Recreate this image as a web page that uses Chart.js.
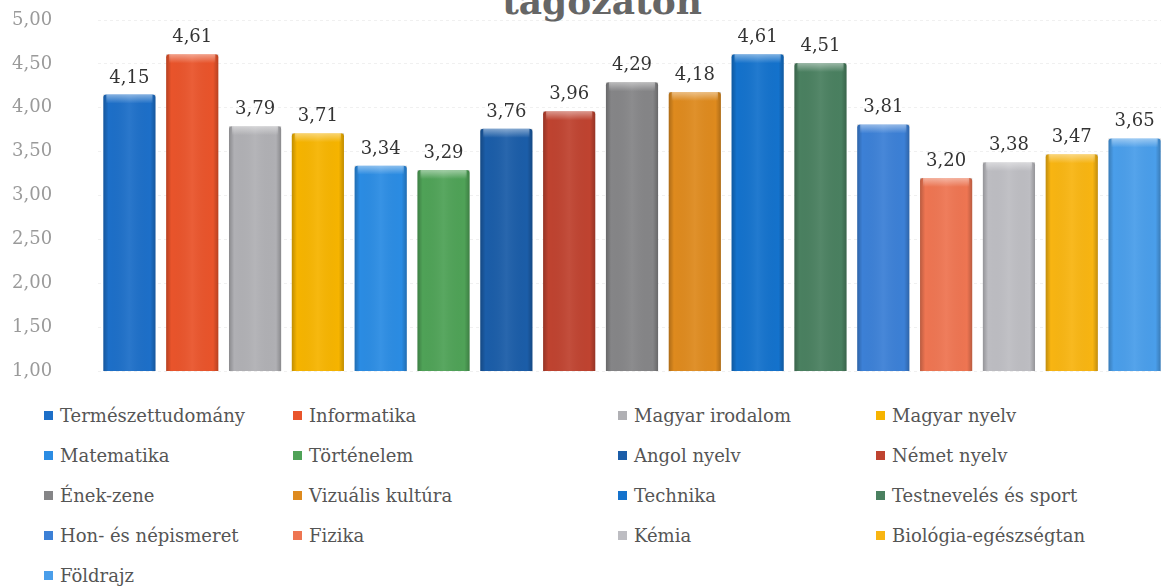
<!DOCTYPE html>
<html>
<head>
<meta charset="utf-8">
<script src="https://cdn.jsdelivr.net/npm/chart.js@4/dist/chart.umd.min.js"></script>
<style>
  html, body { margin: 0; padding: 0; background: #fff; }
  body { width: 1161px; height: 586px; overflow: hidden; position: relative; }
  #title {
    position: absolute; left: 0; width: 1204px; top: -17px;
    text-align: center; font: bold 36px "DejaVu Serif", serif; line-height: 36px;
    color: #666;
  }
  #wrap { position: absolute; left: 0; top: 0; width: 1166px; height: 385px; }
  #legend {
    position: absolute; left: 44px; top: 395px;
    display: grid; grid-template-columns: 249px 325px 258px auto;
    grid-auto-rows: 40px;
    font: 18px "DejaVu Serif", serif; color: #555;
  }
  #legend .item { display: flex; align-items: center; white-space: nowrap; }
  #legend .box { width: 9px; height: 9px; margin-right: 7px; flex: none; }
</style>
</head>
<body>
<div id="title">tagozaton</div>
<div id="wrap"><canvas id="barChart"></canvas></div>
<div id="legend"></div>
<script>
// subjects (one series each) and their averages
const subjects = [
  "Természettudomány", "Informatika", "Magyar irodalom", "Magyar nyelv",
  "Matematika", "Történelem", "Angol nyelv", "Német nyelv",
  "Ének-zene", "Vizuális kultúra", "Technika", "Testnevelés és sport",
  "Hon- és népismeret", "Fizika", "Kémia", "Biológia-egészségtan",
  "Földrajz"
];
const averages = [
  4.15, 4.61, 3.79, 3.71,
  3.34, 3.29, 3.76, 3.96,
  4.29, 4.18, 4.61, 4.51,
  3.81, 3.20, 3.38, 3.47,
  3.65
];
const palette = [
  "#1d6fc8", "#e9542b", "#b0b0b4", "#f6b400",
  "#2b8ce3", "#4fa257", "#1b5da8", "#bf4330",
  "#858587", "#de8a1e", "#1472cc", "#4a8060",
  "#3c80d6", "#ee7552", "#bdbdc2", "#f8b512",
  "#4a9eea"
];
const yMin = 1, yMax = 5, yStep = 0.5;

const fmt = (v) => v.toFixed(2).replace(".", ",");

// bevel shading + value labels on top of the bars
const barDecor = {
  id: "barDecor",
  afterDatasetsDraw(chart) {
    const ctx = chart.ctx;
    const bottom = chart.chartArea.bottom;
    chart.data.datasets.forEach((ds, i) => {
      const meta = chart.getDatasetMeta(i);
      meta.data.forEach((bar, j) => {
        const left = bar.x - bar.width / 2;
        const top = bar.y;
        const h = Math.min(bar.base, bottom) - top;
        const g = ctx.createLinearGradient(left, 0, left + bar.width, 0);
        g.addColorStop(0, "rgba(0,0,0,0.22)");
        g.addColorStop(0.1, "rgba(0,0,0,0)");
        g.addColorStop(0.5, "rgba(255,255,255,0.06)");
        g.addColorStop(0.9, "rgba(0,0,0,0)");
        g.addColorStop(1, "rgba(0,0,0,0.22)");
        ctx.save();
        ctx.fillStyle = g;
        ctx.fillRect(left, top, bar.width, h);
        const t = ctx.createLinearGradient(0, top, 0, top + 9);
        t.addColorStop(0, "rgba(255,255,255,0.45)");
        t.addColorStop(1, "rgba(255,255,255,0)");
        ctx.fillStyle = t;
        ctx.fillRect(left + 3, top, bar.width - 6, 9);
        ctx.fillStyle = "#333";
        ctx.font = '18px "DejaVu Serif", serif';
        ctx.textAlign = "center";
        ctx.textBaseline = "alphabetic";
        ctx.fillText(fmt(ds.data[j]), bar.x, top - 12);
        ctx.restore();
      });
    });
  }
};

const chart = new Chart(document.getElementById("barChart"), {
  type: "bar",
  data: {
    labels: [""],
    datasets: subjects.map((name, i) => ({
      label: name,
      data: [averages[i]],
      backgroundColor: palette[i],
      borderRadius: { topLeft: 3, topRight: 3 },
      borderSkipped: "bottom",
    })),
  },
  options: {
    responsive: true,
    maintainAspectRatio: false,
    animation: false,
    layout: { padding: { top: 20, bottom: 14, left: 12, right: 0 } },
    datasets: { bar: { categoryPercentage: 1, barPercentage: 0.83 } },
    plugins: {
      legend: { display: false },
      tooltip: { enabled: false },
    },
    scales: {
      x: { display: false },
      y: {
        min: yMin,
        max: yMax,
        ticks: {
          stepSize: yStep,
          padding: 2,
          crossAlign: "far",
          color: "#9a9a9a",
          font: { family: '"DejaVu Serif", serif', size: 18 },
          callback: (v) => fmt(v),
        },
        grid: { color: "rgba(0,0,0,0.06)", drawTicks: false },
        border: { display: false, dash: [3, 3] },
        afterFit: (scale) => {
          scale.width = 86;
          scale.paddingTop = 0;
          scale.paddingBottom = 0;
        },
      },
    },
  },
  plugins: [barDecor],
});

// html legend in four columns, from the chart's own legend items
const legendEl = document.getElementById("legend");
chart.options.plugins.legend.labels.generateLabels(chart).forEach((item) => {
  const div = document.createElement("div");
  div.className = "item";
  const box = document.createElement("span");
  box.className = "box";
  box.style.background = item.fillStyle;
  const txt = document.createElement("span");
  txt.textContent = item.text;
  div.appendChild(box);
  div.appendChild(txt);
  legendEl.appendChild(div);
});
</script>
</body>
</html>
